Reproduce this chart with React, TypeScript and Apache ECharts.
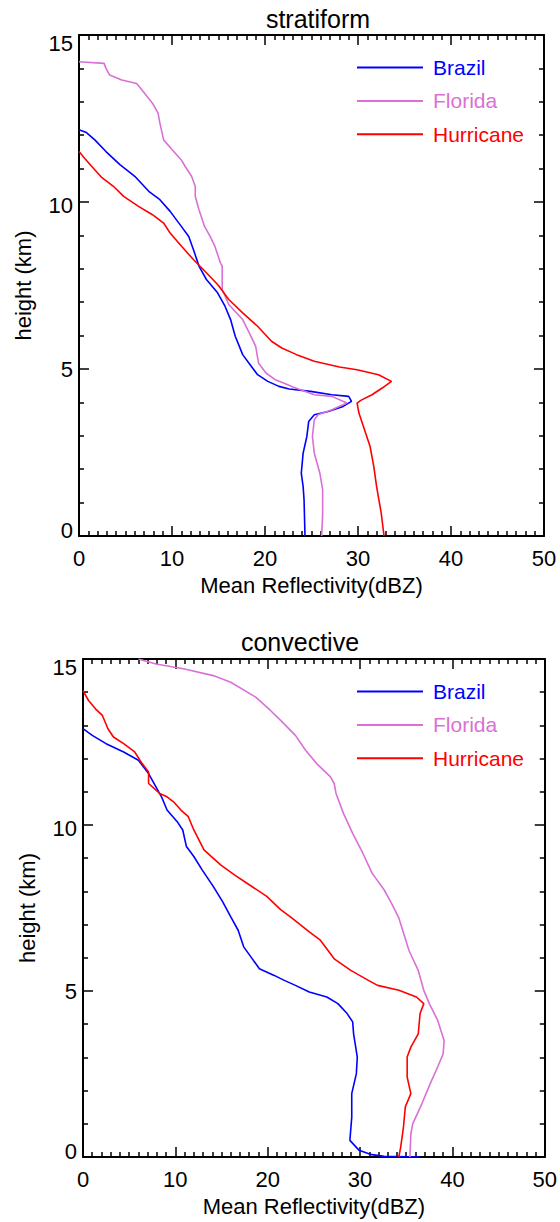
import React, { useEffect, useRef } from "react";
import * as echarts from "echarts";

// ---- data: [Mean Reflectivity (dBZ), height (km)] ----
const seriesNames = ["Brazil", "Florida", "Hurricane"];
const seriesColors = ["#0000ff", "#da70d6", "#ff0000"];
const panelTitles = ["stratiform", "convective"];
const xTicks = [0, 10, 20, 30, 40, 50];
const yTicks = [0, 5, 10, 15];

const stratBrazil = [
  [0, 12.16], [0.8, 12.08], [1.7, 11.86], [2.9, 11.51], [4.4, 11.12], [6.0, 10.77], [7.5, 10.32],
  [8.7, 10.07], [9.8, 9.72], [11.0, 9.27], [11.8, 8.97], [12.3, 8.58], [12.9, 8.08], [13.7, 7.68],
  [14.9, 7.28], [15.7, 6.88], [16.3, 6.48], [16.8, 5.98], [17.6, 5.43], [18.4, 5.13], [19.2, 4.83],
  [20.3, 4.63], [21.5, 4.48], [22.6, 4.4], [24.9, 4.33], [27.2, 4.23], [29.0, 4.18], [29.3, 4.03],
  [28.4, 3.88], [26.8, 3.73], [25.3, 3.63], [24.7, 3.43], [24.5, 2.98], [24.1, 2.48], [23.9, 1.88],
  [24.1, 1.48], [24.2, 1.08], [24.3, 0],
];
const stratFlorida = [
  [0, 14.2], [2.7, 14.15], [2.9, 14.0], [3.3, 13.8], [4.6, 13.65], [6.2, 13.55], [6.75, 13.36],
  [7.9, 12.96], [8.5, 12.66], [8.7, 12.36], [9.1, 11.86], [9.9, 11.6], [11.0, 11.26], [11.4, 11.07],
  [12.1, 10.77], [12.5, 10.47], [12.5, 10.17], [12.9, 9.77], [13.5, 9.27], [14.1, 8.97], [14.6, 8.68],
  [15.2, 8.18], [15.4, 8.08], [15.4, 7.38], [16.1, 6.93], [17.6, 6.48], [18.4, 6.03], [19.0, 5.68],
  [19.3, 5.18], [20.1, 4.88], [21.1, 4.68], [22.0, 4.58], [23.0, 4.46], [25.3, 4.23], [27.2, 4.18],
  [28.8, 3.98], [27.2, 3.78], [25.7, 3.63], [25.3, 3.48], [25.1, 2.98], [25.3, 2.48], [25.9, 1.88],
  [26.2, 1.38], [26.2, 0.68], [26.1, 0],
];
const stratHurricane = [
  [0, 11.51], [0.6, 11.31], [1.35, 11.07], [2.5, 10.72], [3.7, 10.47], [4.8, 10.17], [6.4, 9.87],
  [7.9, 9.62], [9.1, 9.37], [9.8, 9.07], [11.0, 8.68], [12.3, 8.28], [13.7, 7.88], [15.0, 7.5],
  [16.1, 7.08], [17.6, 6.68], [19.2, 6.28], [20.7, 5.83], [21.8, 5.63], [23.4, 5.43], [25.3, 5.23],
  [28.0, 5.06], [29.9, 4.98], [32.2, 4.83], [33.6, 4.63], [32.6, 4.43], [31.5, 4.23], [30.3, 4.06],
  [29.9, 3.98], [30.1, 3.68], [30.7, 3.18], [31.3, 2.68], [31.7, 2.08], [32.0, 1.48], [32.5, 0.68],
  [32.8, 0],
];
const convBrazil = [
  [0, 12.9], [1.0, 12.7], [2.5, 12.45], [4.4, 12.2], [6.0, 11.95], [7.1, 11.55], [7.9, 11.15],
  [8.5, 10.85], [9.1, 10.45], [10.2, 10.1], [10.8, 9.85], [11.2, 9.35], [12.0, 9.05], [12.9, 8.65],
  [14.1, 8.15], [15.1, 7.7], [16.0, 7.23], [16.8, 6.83], [17.4, 6.33], [18.2, 6.02], [19.1, 5.67],
  [20.7, 5.47], [21.8, 5.32], [23.0, 5.17], [24.5, 4.97], [26.4, 4.82], [27.6, 4.62], [28.6, 4.32],
  [29.2, 4.07], [29.3, 3.71], [29.7, 3.01], [29.6, 2.51], [29.1, 1.91], [29.1, 1.2], [28.9, 0.5],
  [29.9, 0.2], [31.1, 0.08], [32.6, 0.02], [36.5, 0],
];
const convFlorida = [
  [6.0, 15.0], [7.9, 14.85], [11.0, 14.7], [14.1, 14.5], [16.0, 14.3], [18.7, 13.85], [20.3, 13.45],
  [21.4, 13.15], [23.0, 12.7], [24.1, 12.25], [25.3, 11.85], [26.8, 11.45], [27.2, 11.25], [27.4, 10.95],
  [28.2, 10.35], [29.2, 9.75], [30.3, 9.15], [31.3, 8.55], [32.6, 8.05], [33.3, 7.7], [34.2, 7.2],
  [35.3, 6.22], [36.3, 5.62], [36.9, 5.02], [37.5, 4.62], [38.4, 4.12], [39.1, 3.51], [39.0, 3.11],
  [38.4, 2.71], [37.6, 2.21], [36.7, 1.61], [35.7, 1.0], [35.5, 0.7], [35.4, 0],
];
const convHurricane = [
  [0, 14.05], [0.6, 13.75], [1.35, 13.5], [2.1, 13.3], [2.7, 12.9], [3.3, 12.65], [4.4, 12.45],
  [5.6, 12.2], [6.4, 11.85], [7.1, 11.6], [7.1, 11.25], [8.3, 10.95], [9.1, 10.85], [9.8, 10.7],
  [10.6, 10.45], [11.4, 10.25], [12.0, 9.85], [13.1, 9.25], [14.9, 8.8], [16.4, 8.5], [18.0, 8.2],
  [19.9, 7.85], [21.4, 7.45], [22.6, 7.2], [24.5, 6.78], [25.7, 6.53], [27.2, 5.97], [29.0, 5.62],
  [30.9, 5.32], [31.9, 5.17], [34.2, 5.02], [36.1, 4.82], [36.9, 4.62], [36.5, 4.32], [36.3, 3.71],
  [35.5, 3.31], [35.1, 3.01], [35.1, 2.41], [35.5, 1.91], [34.9, 1.51], [34.7, 0.9], [34.4, 0.3],
  [34.2, 0],
];
const panelData = [
  [stratBrazil, stratFlorida, stratHurricane],
  [convBrazil, convFlorida, convHurricane],
];

const FONT = "'Liberation Sans', Arial, sans-serif";

export default function App() {
  const ref = useRef<HTMLDivElement>(null);
  useEffect(() => {
    if (!ref.current) return;
    const chart = echarts.init(ref.current, null, { renderer: "svg" });

    const grids = [
      { left: 79, top: 35, width: 465, height: 501 },
      { left: 83, top: 659, width: 464, height: 498 },
    ];
    const titleCenters = [318, 300];
    const titleTops = [6, 629];
    const legendTops = [57, 681];

    const axisLine = { show: true, onZero: false, lineStyle: { color: "#000", width: 2 } };
    const xAxes: any[] = [];
    const yAxes: any[] = [];
    grids.forEach((_, g) => {
      const base = {
        type: "value",
        gridIndex: g,
        min: xTicks[0],
        max: xTicks[xTicks.length - 1],
        interval: 10,
        axisLine,
        splitLine: { show: false },
        axisTick: { show: true, inside: true, length: 10, lineStyle: { color: "#000", width: 1.5 } },
        minorTick: { show: true, splitNumber: 10, length: 5, lineStyle: { color: "#000", width: 1.5 } },
      };
      xAxes.push({
        ...base,
        position: "bottom",
        name: "Mean Reflectivity(dBZ)",
        nameLocation: "middle",
        nameGap: 38,
        nameTextStyle: { fontSize: 22, fontFamily: FONT, color: "#000" },
        axisLabel: { show: true, margin: 11, fontSize: 22, fontFamily: FONT, color: "#000" },
      });
      xAxes.push({ ...base, position: "top", axisLabel: { show: false } });

      const ybase = {
        type: "value",
        gridIndex: g,
        min: yTicks[0],
        max: yTicks[yTicks.length - 1],
        interval: 5,
        axisLine,
        splitLine: { show: false },
        axisTick: { show: true, inside: true, length: 10, lineStyle: { color: "#000", width: 1.5 } },
        minorTick: { show: true, splitNumber: 5, length: 5, lineStyle: { color: "#000", width: 1.5 } },
      };
      const richBase = { fontSize: 22, fontFamily: FONT, color: "#000" };
      yAxes.push({
        ...ybase,
        position: "left",
        name: "height (km)",
        nameLocation: "middle",
        nameGap: 45,
        nameTextStyle: { fontSize: 22, fontFamily: FONT, color: "#000" },
        axisLabel: {
          show: true,
          margin: 6,
          fontSize: 22,
          fontFamily: FONT,
          color: "#000",
          formatter: (v: number) =>
            v === 15 ? `{dn8|${v}}` : v === 10 ? `{dn3|${v}}` : v === 0 ? `{up6|${v}}` : `{n|${v}}`,
          rich: {
            dn8: { ...richBase, padding: [16, 0, 0, 0] },
            dn3: { ...richBase, padding: [6, 0, 0, 0] },
            up6: { ...richBase, padding: [0, 0, 12, 0] },
            n: { ...richBase },
          },
        },
      });
      yAxes.push({ ...ybase, position: "right", axisLabel: { show: false } });
    });

    const series: any[] = [];
    panelData.forEach((panel, g) => {
      panel.forEach((data, i) => {
        series.push({
          type: "line",
          name: seriesNames[i],
          xAxisIndex: g * 2,
          yAxisIndex: g * 2,
          data,
          showSymbol: false,
          symbol: "none",
          color: seriesColors[i],
          lineStyle: { color: seriesColors[i], width: 1.6 },
          itemStyle: { color: seriesColors[i] },
          z: 3,
        });
      });
    });

    chart.setOption({
      animation: false,
      backgroundColor: "#fff",
      title: panelTitles.map((t, g) => ({
        text: t,
        left: titleCenters[g],
        top: titleTops[g],
        textAlign: "center",
        padding: 0,
        textStyle: { fontSize: 25, fontWeight: "normal", fontFamily: FONT, color: "#000" },
      })),
      legend: grids.map((_, g) => ({
        orient: "vertical",
        left: 357,
        top: legendTops[g],
        padding: 0,
        icon: "rect",
        itemWidth: 66,
        itemHeight: 2,
        itemGap: 12.4,
        selectedMode: false,
        data: seriesNames.map((n, i) => ({
          name: n,
          textStyle: { color: seriesColors[i], fontSize: 21, fontFamily: FONT, lineHeight: 21, padding: [0, 0, 0, 5] },
        })),
      })),
      grid: grids,
      xAxis: xAxes,
      yAxis: yAxes,
      series,
    });
    return () => chart.dispose();
  }, []);
  return (
    <div
      ref={ref}
      style={{ position: "absolute", left: 0, top: 0, width: 560, height: 1222, background: "#fff" }}
    />
  );
}
